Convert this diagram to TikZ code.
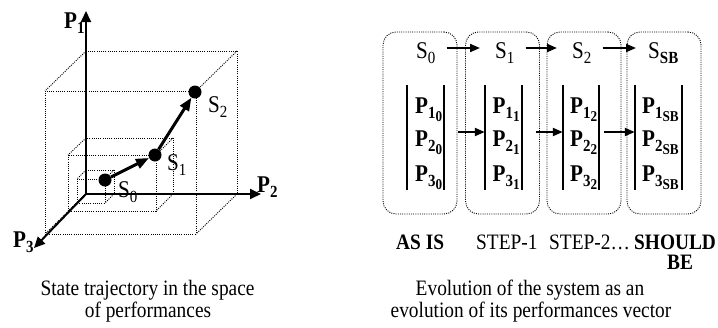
\documentclass[tikz,border=0pt]{standalone}
\usepackage{fontspec}
\setmainfont{Liberation Serif}[FakeStretch=0.88]
\usetikzlibrary{arrows.meta}
\newcommand\lsub[1]{\raisebox{-5pt}{\fontsize{17}{17}\selectfont #1}}
\newcommand\lsubsub[1]{\raisebox{-3.5pt}{\fontsize{15}{15}\selectfont #1}}
\begin{document}
\begin{tikzpicture}[x=1pt,y=-1pt,
  every node/.style={inner sep=0pt, font=\fontsize{22}{24}\selectfont},
  lbl/.style={anchor=base west, font=\fontsize{24}{26}\selectfont},
  stage/.style={anchor=base west},
  txt/.style={anchor=base},
  cube/.style={line width=0.9pt, dash pattern=on 1pt off 1.2pt},
  axis/.style={line width=2pt, -{Triangle[length=11pt,width=10pt]}},
  traj/.style={line width=3pt, -{Triangle[length=13pt,width=10pt]}},
  dot/.style={circle, fill=black, minimum size=13pt},
  frame/.style={draw, line width=0.9pt, dash pattern=on 1pt off 1.2pt, rounded corners=13pt, minimum width=74pt, minimum height=182pt},
  vec/.style={minimum height=105pt},
  vbar/.style={line width=1.6pt},
  harr/.style={line width=2pt, -{Triangle[length=10pt,width=8pt]}}
]
\useasboundingbox (0,0) rectangle (718,327);

% ---- left panel: cubes
\draw[cube] (86,51) rectangle (237,194);
\draw[cube] (45,91) rectangle (196,234);
\draw[cube] (86,51) -- (45,91) (237,51) -- (196,91) (237,194) -- (196,234) (86,194) -- (45,234);
\draw[cube] (86,138) rectangle (173,194);
\draw[cube] (68,155) rectangle (156,211);
\draw[cube] (86,138) -- (68,155) (173,138) -- (156,155) (173,194) -- (156,211) (86,194) -- (68,211);
\draw[cube] (86,170) rectangle (114,194);
\draw[cube] (77,179) rectangle (105,203);
\draw[cube] (86,170) -- (77,179) (114,170) -- (105,179) (114,194) -- (105,203) (86,194) -- (77,203);

% axis labels
\node[lbl] (lp1) at (64,28) {\textbf{P}\lsub{\textbf{1}}};
\node[lbl] (lp2) at (257,192) {\textbf{P}\lsub{\textbf{2}}};
\node[lbl] (lp3) at (13,247) {\textbf{P}\lsub{\textbf{3}}};

% axes
\coordinate (O) at (86,194);
\coordinate (p1tip) at (86,11);
\coordinate (p2tip) at (261,194);
\coordinate (p3tip) at (34,248);
\draw[axis] (O) -- (p1tip);
\draw[axis] (O) -- (p2tip);
\draw[axis] (O) -- (p3tip);

% states
\node[dot] (s0) at (105,180) {};
\node[dot] (s1) at (155,155) {};
\node[dot] (s2) at (195,92) {};
\draw[traj] (s0) -- (s1);
\draw[traj] (s1) -- (s2);
\node[lbl] (ls0) at (118,197) {S\lsub{0}};
\node[lbl] (ls1) at (167,170) {S\lsub{1}};
\node[lbl] (ls2) at (208,112) {S\lsub{2}};

% ---- right panel
\node[frame] (b0) at (420,123) {};
\node[frame] (b1) at (502.5,123) {};
\node[frame] (b2) at (584,123) {};
\node[frame] (b3) at (664,123) {};

\node[lbl] (rs0) at (416,58) {S\lsub{0}};
\node[lbl] (rs1) at (495,58) {S\lsub{1}};
\node[lbl] (rs2) at (572,58) {S\lsub{2}};
\node[lbl] (rs3) at (648,58) {S\lsub{\textbf{SB}}};
\draw[harr] ([xshift=11pt,yshift=10pt]rs0.base east) -- ([xshift=-15pt,yshift=10pt]rs1.base west);
\draw[harr] ([xshift=11pt,yshift=10pt]rs1.base east) -- ([xshift=-15pt,yshift=10pt]rs2.base west);
\draw[harr] ([xshift=11pt,yshift=10pt]rs2.base east) -- ([xshift=-12pt,yshift=10pt]rs3.base west);

\node[vec, minimum width=37pt] (v0) at (425.5,137.5) {};
\node[vec, minimum width=37pt] (v1) at (503.5,137.5) {};
\node[vec, minimum width=36pt] (v2) at (581,137.5) {};
\node[vec, minimum width=47pt] (v3) at (658.5,137.5) {};
\foreach \v in {v0,v1,v2,v3}{
  \draw[vbar] (\v.north west) -- (\v.south west);
  \draw[vbar] (\v.north east) -- (\v.south east);
}
\node[lbl] (p10) at (415,113) {\textbf{P}\lsub{\textbf{1}\lsubsub{\textbf{0}}}};
\node[lbl] (p20) at (415,146) {\textbf{P}\lsub{\textbf{2}\lsubsub{\textbf{0}}}};
\node[lbl] (p30) at (415,181) {\textbf{P}\lsub{\textbf{3}\lsubsub{\textbf{0}}}};
\node[lbl] (p11) at (492.5,113) {\textbf{P}\lsub{\textbf{1}\lsubsub{\textbf{1}}}};
\node[lbl] (p21) at (492.5,146) {\textbf{P}\lsub{\textbf{2}\lsubsub{\textbf{1}}}};
\node[lbl] (p31) at (492.5,181) {\textbf{P}\lsub{\textbf{3}\lsubsub{\textbf{1}}}};
\node[lbl] (p12) at (570,113) {\textbf{P}\lsub{\textbf{1}\lsubsub{\textbf{2}}}};
\node[lbl] (p22) at (570,146) {\textbf{P}\lsub{\textbf{2}\lsubsub{\textbf{2}}}};
\node[lbl] (p32) at (570,181) {\textbf{P}\lsub{\textbf{3}\lsubsub{\textbf{2}}}};
\node[lbl] (p13) at (642,113) {\textbf{P}\lsub{\textbf{1}\lsubsub{\textbf{SB}}}};
\node[lbl] (p23) at (642,146) {\textbf{P}\lsub{\textbf{2}\lsubsub{\textbf{SB}}}};
\node[lbl] (p33) at (642,181) {\textbf{P}\lsub{\textbf{3}\lsubsub{\textbf{SB}}}};

\draw[harr] ([xshift=14pt,yshift=5.5pt]v0.east) -- ([yshift=5.5pt]v1.west);
\draw[harr] ([xshift=13.5pt,yshift=5.5pt]v1.east) -- ([yshift=5.5pt]v2.west);
\draw[harr] ([xshift=5pt,yshift=5.5pt]v2.east) -- ([yshift=5.5pt]v3.west);

% stage labels
\node[stage] (asis) at (396,249) {\textbf{AS IS}};
\node[stage] (st1) at (476,249) {STEP-1};
\node[stage] (st2) at (549,249) {STEP-2\ldots};
\node[stage] (sb1) at (634,249) {\textbf{SHOULD}};
\node[txt] (sb2) at (680,269) {\textbf{BE}};

% captions
\node[txt] (cl1) at (147.5,295) {State trajectory in the space};
\node[txt] (cl2) at (148,317) {of performances};
\node[txt] (cr1) at (530,295) {Evolution of the system as an};
\node[txt] (cr2) at (531,317) {evolution of its performances vector};
\end{tikzpicture}
\end{document}
